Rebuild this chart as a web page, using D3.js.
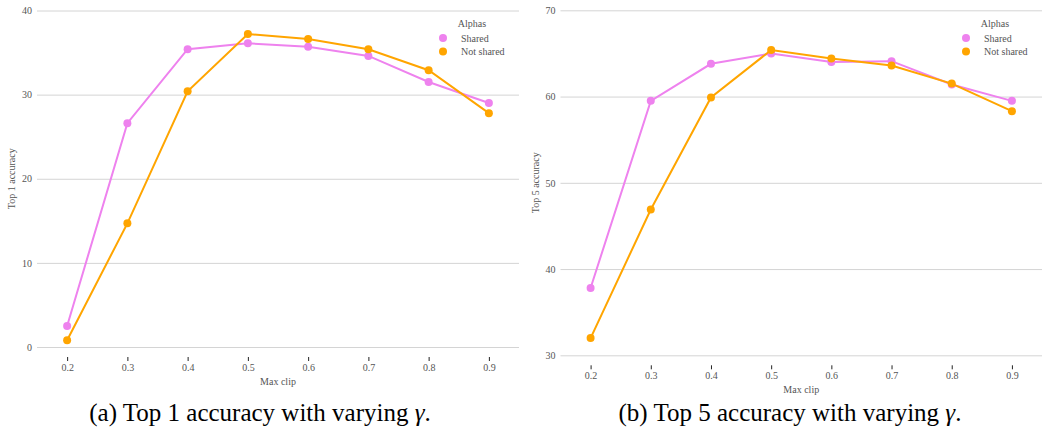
<!DOCTYPE html>
<html>
<head>
<meta charset="utf-8">
<title>Max clip accuracy</title>
<script src="https://d3js.org/d3.v7.min.js"></script>
<style>
    body { margin: 0; background: #fff; }
    svg { display: block; }
</style>
</head>
<body>
<script>
// data
const maxClip = [0.2, 0.3, 0.4, 0.5, 0.6, 0.7, 0.8, 0.9];
const top1Shared    = [2.5, 26.6, 35.4, 36.1, 35.7, 34.6, 31.5, 29.0];
const top1NotShared = [0.8, 14.7, 30.4, 37.2, 36.6, 35.4, 32.9, 27.8];
const top5Shared    = [37.8, 59.5, 63.8, 65.0, 64.0, 64.1, 61.4, 59.5];
const top5NotShared = [32.0, 46.9, 59.9, 65.4, 64.4, 63.6, 61.5, 58.3];
const seriesNames = ["Shared", "Not shared"];
const seriesColors = ["violet", "orange"];
const top1Ticks = [0, 10, 20, 30, 40];
const top5Ticks = [30, 40, 50, 60, 70];

const SERIF = "'Liberation Serif', serif";

const svg = d3.select("body").append("svg")
    .attr("width", 1042).attr("height", 429)
    .attr("font-family", SERIF);

function label(sel) {
    return sel.attr("font-family", SERIF).attr("font-size", 10).attr("fill", "#555");
}

function panel(opts) {
    const x = d3.scaleLinear().domain([0.15, 0.95]).range([opts.x0, opts.x1]);
    const y = d3.scaleLinear().domain(opts.yDomain).range([opts.yBottom, opts.yTop]);
    const g = svg.append("g");

    // horizontal grid + y labels
    const yAxis = g.append("g")
        .attr("transform", `translate(${opts.x0},0)`)
        .call(d3.axisLeft(y).tickValues(opts.yTicks).tickSize(-(opts.x1 - opts.x0)).tickPadding(5));
    yAxis.attr("font-family", SERIF);
    yAxis.select(".domain").remove();
    yAxis.selectAll(".tick line").attr("stroke", "#d4d4d4");
    label(yAxis.selectAll(".tick text"));

    // x axis ticks
    const xAxis = g.append("g")
        .attr("transform", `translate(0,${opts.yBottom + 10})`)
        .call(d3.axisBottom(x).tickValues(maxClip).tickSize(4).tickPadding(3).tickFormat(d3.format(".1f")));
    xAxis.attr("font-family", SERIF);
    xAxis.select(".domain").remove();
    xAxis.selectAll(".tick line").attr("stroke", "#222");
    label(xAxis.selectAll(".tick text"));

    label(g.append("text"))
        .attr("x", (opts.x0 + opts.x1) / 2).attr("y", opts.yBottom + 38)
        .attr("text-anchor", "middle").text("Max clip");

    label(g.append("text"))
        .attr("transform", `translate(${opts.x0 - 22},${(opts.yTop + opts.yBottom) / 2}) rotate(-90)`)
        .attr("text-anchor", "middle").text(opts.yLabel);

    const line = d3.line().x((d, i) => x(maxClip[i])).y(d => y(d));
    opts.series.forEach((vals, k) => {
        g.append("path").datum(vals)
            .attr("fill", "none").attr("stroke", seriesColors[k])
            .attr("stroke-width", 2).attr("d", line);
        g.selectAll(null).data(vals).enter().append("circle")
            .attr("cx", (d, i) => x(maxClip[i])).attr("cy", d => y(d))
            .attr("r", 4).attr("fill", seriesColors[k]);
    });

    // legend
    const lg = g.append("g").attr("transform", `translate(${opts.x1 - 76},0)`);
    label(lg.append("text")).attr("x", 29).attr("y", 27)
        .attr("text-anchor", "middle").text("Alphas");
    seriesNames.forEach((n, k) => {
        lg.append("circle").attr("cx", 0).attr("cy", 38 + k * 13.5).attr("r", 4)
            .attr("fill", seriesColors[k]);
        label(lg.append("text")).attr("x", 18).attr("y", 41.5 + k * 13.5).text(n);
    });

    const cap = svg.append("text")
        .attr("font-family", SERIF).attr("font-size", 25).attr("fill", "#000")
        .attr("x", opts.capX).attr("y", 421).attr("text-anchor", "middle");
    cap.append("tspan").text(opts.caption + " ");
    cap.append("tspan").attr("font-style", "italic").text("γ");
    cap.append("tspan").text(".");
}

panel({
    x0: 37, x1: 519, yTop: 10.5, yBottom: 347, yDomain: [0, 40], yTicks: top1Ticks,
    yLabel: "Top 1 accuracy", series: [top1Shared, top1NotShared],
    caption: "(a) Top 1 accuracy with varying", capX: 260
});
panel({
    x0: 560.5, x1: 1042, yTop: 10.3, yBottom: 355.3, yDomain: [30, 70], yTicks: top5Ticks,
    yLabel: "Top 5 accuracy", series: [top5Shared, top5NotShared],
    caption: "(b) Top 5 accuracy with varying", capX: 790
});
</script>
</body>
</html>
